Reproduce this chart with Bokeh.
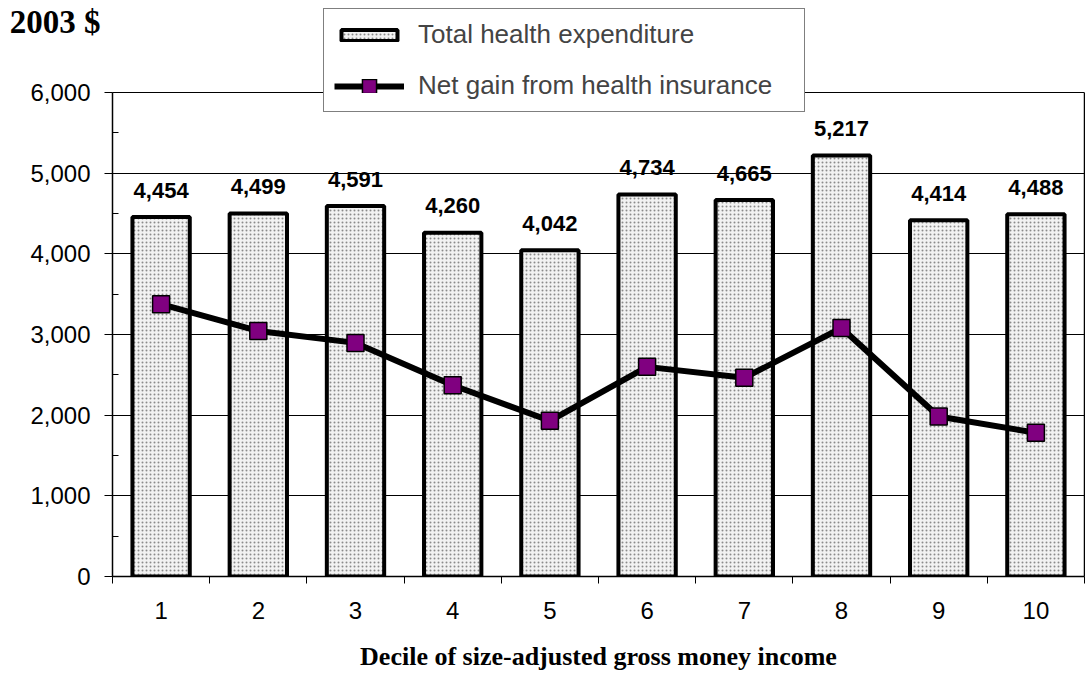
from bokeh.plotting import figure
from bokeh.models import (ColumnDataSource, Legend, LegendItem, FixedTicker,
                          SingleIntervalTicker, NumeralTickFormatter, LinearAxis)
from bokeh.embed import file_html
from bokeh.resources import INLINE

deciles = ["1", "2", "3", "4", "5", "6", "7", "8", "9", "10"]
total_expenditure = [4454, 4499, 4591, 4260, 4042, 4734, 4665, 5217, 4414, 4488]
net_gain = [3375, 3043, 2895, 2370, 1930, 2598, 2462, 3080, 1983, 1781]
y_ticks = [0, 1000, 2000, 3000, 4000, 5000, 6000]

xs = list(range(1, len(deciles) + 1))
src = ColumnDataSource(dict(
    x=xs, total=total_expenditure, net=net_gain,
    lab=[f"{v:,}" for v in total_expenditure],
))

# layout (pixels): plot box spans y = 92 .. 577 of a 673 px page; the frame
# reaches up to the page top so the legend may straddle the box's top edge.
PAGE_H = 673
FRAME_BOTTOM = 577
BOX_TOP = 92
y_top = y_ticks[-1] * FRAME_BOTTOM / (FRAME_BOTTOM - BOX_TOP)

p = figure(width=1085, height=PAGE_H, x_range=(0.5, len(deciles) + 0.5),
           y_range=(y_ticks[0], y_top), output_backend="svg",
           toolbar_location=None, title=None, min_border_left=112,
           min_border_right=1, min_border_top=0,
           min_border_bottom=PAGE_H - FRAME_BOTTOM)
p.background_fill_color = "white"
p.border_fill_color = "white"
p.outline_line_color = None

bars = p.vbar(x="x", top="total", width=0.59, source=src,
              fill_color="#f2f2f2", hatch_pattern="dot", hatch_color="#8a8a8a",
              hatch_scale=4, hatch_weight=1.2, line_color="black", line_width=4)

p.text(x="x", y="total", text="lab", source=src, text_align="center",
       text_baseline="alphabetic", y_offset=-27,
       text_font={"value": "Liberation Sans"}, text_font_style="bold",
       text_font_size="22px", text_color="black")

line = p.line(x="x", y="net", source=src, line_color="black", line_width=6)
p.scatter(x="x", y="net", source=src, marker="square", size=17,
          fill_color="#800080", line_color="black", line_width=1.5)

# legend-only marker (outer black rim + purple core), hidden in the plot
lg_rim = p.scatter(x="x", y="net", source=src, marker="square",
                   fill_color="black", line_color="black", line_width=10,
                   line_join="miter", visible=False)
lg_core = p.scatter(x="x", y="net", source=src, marker="square",
                    fill_color="#800080", line_color="#800080", line_width=7,
                    line_join="miter", visible=False)

# grid (the 6,000 line doubles as the top edge of the plot box)
p.xgrid.visible = False
p.ygrid.grid_line_color = "black"
p.ygrid.grid_line_width = 1
p.ygrid.ticker = FixedTicker(ticks=y_ticks)

# y axis
yax = p.yaxis[0]
yax.bounds = (y_ticks[0], y_ticks[-1])
yax.ticker = SingleIntervalTicker(interval=1000, num_minor_ticks=2)
yax.formatter = NumeralTickFormatter(format="0,0")
yax.major_label_text_font = "Liberation Sans"
yax.major_label_text_font_size = "24px"
yax.major_label_text_color = "black"
yax.major_tick_out = 8
yax.major_tick_in = 0
yax.minor_tick_in = 6
yax.minor_tick_out = 0
yax.axis_line_width = 1.5
yax.major_label_standoff = 14
yax.axis_label = "\n2003 $"
yax.axis_label_text_font = "Liberation Serif"
yax.axis_label_text_font_style = "bold"
yax.axis_label_text_font_size = "33px"
yax.axis_label_text_color = "black"
yax.axis_label_orientation = "horizontal"
yax.axis_label_standoff = -73
if hasattr(yax, "axis_label_align"):
    yax.axis_label_align = "end"

# right edge of the plot box
right_edge = LinearAxis(bounds=(y_ticks[0], y_ticks[-1]), ticker=FixedTicker(ticks=[]),
                        major_tick_out=0, major_tick_in=0, minor_tick_out=0,
                        minor_tick_in=0, major_label_text_font_size="0px",
                        axis_line_width=1.5)
p.add_layout(right_edge, "right")

# x axis
xax = p.xaxis[0]
xax.ticker = FixedTicker(ticks=xs, minor_ticks=[x - 0.5 for x in xs] + [xs[-1] + 0.5])
xax.major_label_overrides = {x: d for x, d in zip(xs, deciles)}
xax.major_label_text_font = "Liberation Sans"
xax.major_label_text_font_size = "24px"
xax.major_label_text_color = "black"
xax.major_tick_out = 0
xax.major_tick_in = 0
xax.minor_tick_out = 7
xax.minor_tick_in = 0
xax.axis_line_width = 1.5
xax.major_label_standoff = 18
xax.axis_label = "Decile of size-adjusted gross money income"
xax.axis_label_text_font = "Liberation Serif"
xax.axis_label_text_font_style = "bold"
xax.axis_label_text_font_size = "26px"
xax.axis_label_text_color = "black"
xax.axis_label_standoff = 20

# legend box: x 323..803, y 9..113 (page pixels)
legend = Legend(items=[
    LegendItem(label="Total health expenditure", renderers=[bars]),
    LegendItem(label="Net gain from health insurance",
               renderers=[line, lg_rim, lg_core]),
], location=(323 - 112, FRAME_BOTTOM - 113))
legend.border_line_color = "black"
legend.border_line_width = 1.5
legend.background_fill_color = "white"
legend.background_fill_alpha = 1
legend.label_text_font = "Liberation Sans"
legend.label_text_font_size = "26px"
legend.glyph_width = 70
legend.glyph_height = 14
legend.label_height = 30
legend.spacing = 20
legend.padding = 10
legend.margin = 0
legend.label_standoff = 14
legend.label_width = 376
p.add_layout(legend, "center")

open("out.html", "w").write(file_html(p, INLINE))
